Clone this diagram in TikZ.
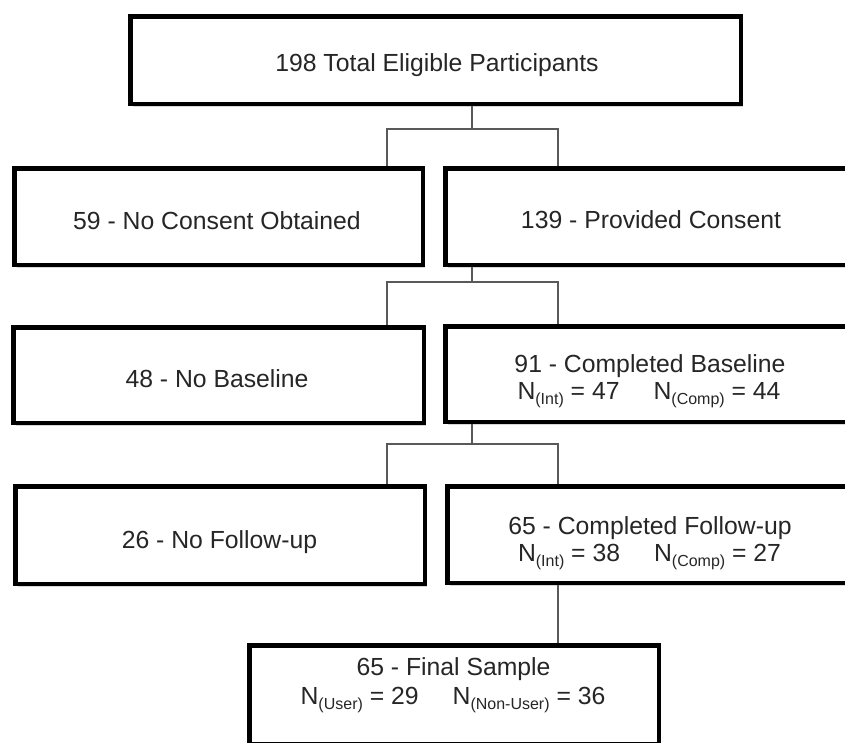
\documentclass[tikz,border=0pt]{standalone}
\usepackage{fontspec}
\setmainfont{Liberation Sans}
\usetikzlibrary{shadows}
\newcommand{\mysubtxt}[1]{\raisebox{-5pt}{\fontsize{16}{16}\selectfont #1}}
\begin{document}
\begin{tikzpicture}[x=1pt,y=-1pt,
  font=\fontsize{24.75}{28}\selectfont,
  box/.style={draw=black, line width=4.5pt, fill=white, inner sep=0pt,
    drop shadow={shadow xshift=2.5pt, shadow yshift=-3pt, opacity=0.22, fill=black!70}},
  txt/.style={anchor=base, inner sep=0pt, text=black!85},
  conn/.style={draw=black!65, line width=1.9pt}]
\useasboundingbox (0,0) rectangle (845,742);
\clip (0,0) rectangle (845,742);
% boxes
\node[box, minimum width=610.5pt, minimum height=87.5pt] (top) at (435.5,60) {};
\node[box, minimum width=408.5pt, minimum height=96.5pt] (nc) at (218.5,216.5) {};
\node[box, minimum width=412.5pt, minimum height=96.5pt] (pc) at (651.5,216.5) {};
\node[box, minimum width=410.5pt, minimum height=95.5pt] (nb) at (218.5,375) {};
\node[box, minimum width=412.5pt, minimum height=95.5pt] (cb) at (651.5,374) {};
\node[box, minimum width=409.5pt, minimum height=97.5pt] (nf) at (220,535) {};
\node[box, minimum width=410.5pt, minimum height=96.5pt] (cf) at (652.5,534.5) {};
\node[box, minimum width=409.5pt, minimum height=98.5pt] (fs) at (454,694.5) {};
% junction coordinates
\coordinate (j1) at (472,129); \coordinate (l1) at (387,129); \coordinate (r1) at (558,129);
\coordinate (j2) at (472,282); \coordinate (l2) at (387,282); \coordinate (r2) at (558,282);
\coordinate (j3) at (472,444); \coordinate (l3) at (387,444); \coordinate (r3) at (558,444);
\coordinate (k4) at (558,614);
% connectors
\draw[conn] (j1 |- top.south) -- (j1);
\draw[conn] (l1 |- nc.north) -- (l1) -- (r1) -- (r1 |- pc.north);
\draw[conn] (j2 |- pc.south) -- (j2);
\draw[conn] (l2 |- nb.north) -- (l2) -- (r2) -- (r2 |- cb.north);
\draw[conn] (j3 |- cb.south) -- (j3);
\draw[conn] (l3 |- nf.north) -- (l3) -- (r3) -- (r3 |- cf.north);
\draw[conn] (k4 |- cf.south) -- (k4 |- fs.north);
% texts
\node[txt] (ttop) at (437,71.5) {198 Total Eligible Participants};
\node[txt] (tnc) at (217,229) {59 - No Consent Obtained};
\node[txt] (tpc) at (651,228) {139 - Provided Consent};
\node[txt] (tnb) at (217,387) {48 - No Baseline};
\node[txt] (tcb1) at (650,372) {91 - Completed Baseline};
\node[txt] (tcb2) at (649,399) {N\mysubtxt{(Int)} = 47\hspace{34pt}N\mysubtxt{(Comp)} = 44};
\node[txt] (tnf) at (219.5,548) {26 - No Follow-up};
\node[txt] (tcf1) at (650,534) {65 - Completed Follow-up};
\node[txt] (tcf2) at (649.5,561) {N\mysubtxt{(Int)} = 38\hspace{34pt}N\mysubtxt{(Comp)} = 27};
\node[txt] (tfs1) at (453.5,675) {65 - Final Sample};
\node[txt] (tfs2) at (453,704) {N\mysubtxt{(User)} = 29\hspace{34pt}N\mysubtxt{(Non-User)} = 36};
\end{tikzpicture}
\end{document}
